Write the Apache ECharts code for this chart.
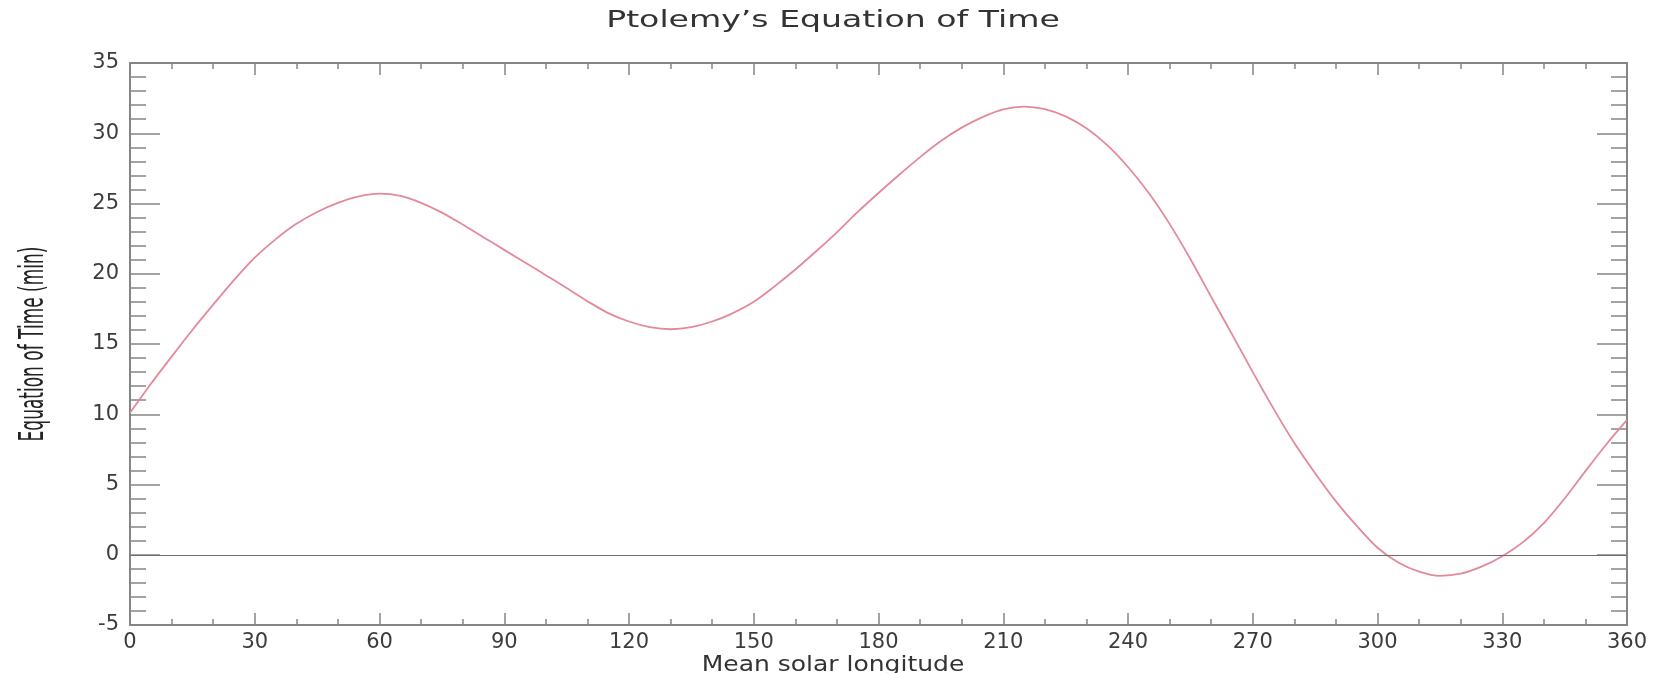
<!DOCTYPE html>
<html>
<head>
<meta charset="utf-8">
<title>Ptolemy's Equation of Time</title>
<script src="https://cdn.jsdelivr.net/npm/echarts@6/dist/echarts.min.js"></script>
<style>
    html, body { margin: 0; padding: 0; background: #fff; }
    #chart { width: 1666px; height: 673px; }
</style>
</head>
<body>
<div id="chart"></div>
<script>
// mean solar longitude (deg)
const longitude = [
    0, 5, 10, 15, 20, 25, 30, 35, 40, 45, 50, 55,
    60, 65, 70, 75, 80, 85, 90, 95, 100, 105, 110, 115,
    120, 125, 130, 135, 140, 145, 150, 155, 160, 165, 170, 175,
    180, 185, 190, 195, 200, 205, 210, 215, 220, 225, 230, 235,
    240, 245, 250, 255, 260, 265, 270, 275, 280, 285, 290, 295,
    300, 305, 310, 315, 320, 325, 330, 335, 340, 345, 350, 355, 360
];
// equation of time (min)
const eqTime = [
    10.1, 12.15, 14.1, 16.0, 17.8, 19.55, 21.15, 22.45, 23.55, 24.4, 25.05, 25.5,
    25.7, 25.55, 25.05, 24.35, 23.5, 22.6, 21.7, 20.8, 19.9, 18.98, 18.05, 17.2,
    16.6, 16.2, 16.05, 16.2, 16.6, 17.2, 18.0, 19.1, 20.3, 21.6, 22.95, 24.4,
    25.75, 27.05, 28.3, 29.45, 30.4, 31.15, 31.7, 31.9, 31.72, 31.2, 30.35, 29.15,
    27.6, 25.75, 23.55, 21.05, 18.35, 15.7, 13.0, 10.4, 7.95, 5.8, 3.8, 2.05,
    0.5, -0.55, -1.2, -1.5, -1.35, -0.85, -0.1, 0.9, 2.25, 4.0, 5.95, 7.85, 9.6
];
const xTicks = { min: 0, max: 360, step: 30 };
const yTicks = { min: -5, max: 35, step: 5 };

const chart = echarts.init(document.getElementById('chart'));

const axisGray = '#858585';
const labelFont = { fontFamily: 'DejaVu Sans', fontSize: 21, color: '#3c3c3c' };

const xBase = (pos, showLabel) => ({
    type: 'value',
    position: pos,
    min: xTicks.min,
    max: xTicks.max,
    interval: xTicks.step,
    axisLine: { show: true, onZero: false, lineStyle: { color: axisGray, width: 2 } },
    axisTick: { show: true, inside: true, length: 12, lineStyle: { color: axisGray, width: 1.5 } },
    minorTick: { show: true, splitNumber: 3, length: 6, lineStyle: { color: axisGray, width: 1.5 } },
    axisLabel: Object.assign({ show: showLabel, margin: 7 }, labelFont),
    splitLine: { show: false }
});

const yBase = (pos, showLabel) => ({
    type: 'value',
    position: pos,
    min: yTicks.min,
    max: yTicks.max,
    interval: yTicks.step,
    axisLine: { show: true, onZero: false, lineStyle: { color: axisGray, width: 2 } },
    axisTick: { show: true, inside: true, length: 30, lineStyle: { color: axisGray, width: 1.5 } },
    minorTick: { show: true, splitNumber: 5, length: 16, lineStyle: { color: axisGray, width: 1.5 } },
    axisLabel: Object.assign({ show: showLabel, margin: 11 }, labelFont),
    splitLine: { show: false }
});

chart.setOption({
    backgroundColor: '#fff',
    animation: false,
    grid: { left: 130, right: 39, top: 63, bottom: 48, containLabel: false },
    xAxis: [xBase('bottom', true), xBase('top', false)],
    yAxis: [yBase('left', true), yBase('right', false)],
    graphic: [
        {
            type: 'text',
            x: 833, y: 21,
            scaleX: 1.44,
            style: {
                text: 'Ptolemy\u2019s Equation of Time',
                x: 0, y: 0,
                align: 'center', verticalAlign: 'middle',
                font: '23px "DejaVu Sans"',
                fill: '#333'
            }
        },
        {
            type: 'text',
            x: 833, y: 666,
            scaleX: 1.19,
            style: {
                text: 'Mean solar longitude',
                x: 0, y: 0,
                align: 'center', verticalAlign: 'middle',
                font: '21px "DejaVu Sans"',
                fill: '#333'
            }
        },
        {
            type: 'text',
            x: 34, y: 344,
            rotation: Math.PI / 2,
            scaleX: 0.5,
            style: {
                text: 'Equation of Time (min)',
                x: 0, y: 0,
                align: 'center', verticalAlign: 'middle',
                font: '34px "DejaVu Sans"',
                fill: '#222'
            }
        }
    ],
    series: [
        {
            type: 'line',
            xAxisIndex: 0,
            yAxisIndex: 0,
            data: longitude.map((lon, i) => [lon, eqTime[i]]),
            smooth: 0.3,
            showSymbol: false,
            lineStyle: { color: '#e3899a', width: 1.8 },
            markLine: {
                silent: true,
                symbol: 'none',
                label: { show: false },
                lineStyle: { color: '#6e6e6e', width: 1.2, type: 'solid' },
                data: [{ yAxis: 0 }]
            }
        }
    ]
});
</script>
</body>
</html>
